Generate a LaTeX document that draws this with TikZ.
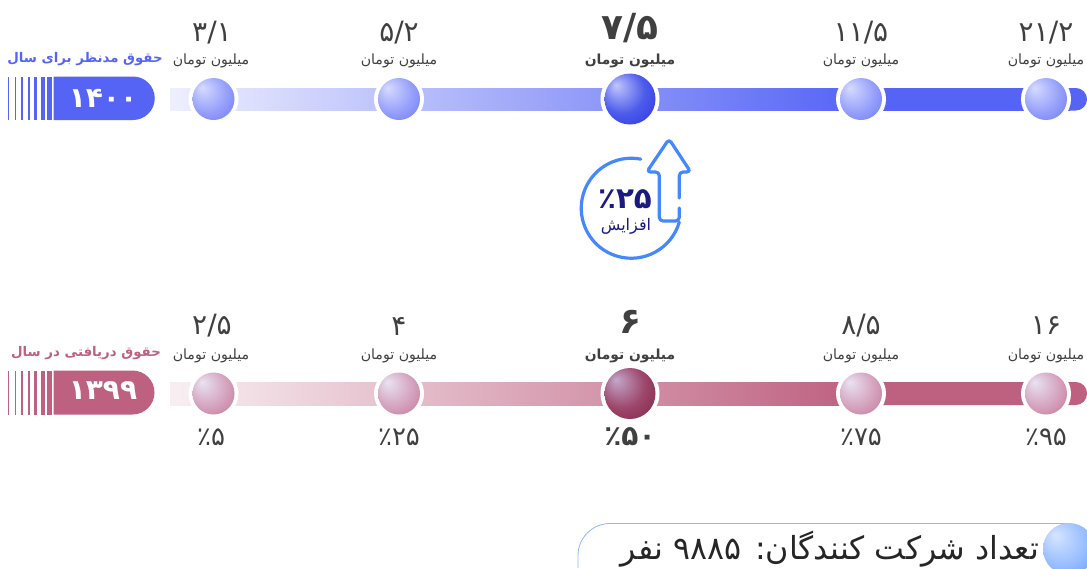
\documentclass[tikz,border=0pt]{standalone}
\usepackage{fontspec}
\usetikzlibrary{calc}
\TeXXeTstate=1
\newfontfamily\faf[Script=Arabic]{DejaVu Sans}
\newfontfamily\fab[Script=Arabic]{DejaVu Sans Bold}
\newcommand\rl[1]{\beginR #1\endR}
\definecolor{tblue}{HTML}{5564F5}
\definecolor{tpink}{HTML}{BE6080}
\definecolor{tdark}{HTML}{404040}
\definecolor{tnavy}{HTML}{1A1A80}
\definecolor{tsky}{HTML}{4488FF}
\pgfdeclareradialshading{ballblue}{\pgfpoint{-14bp}{14bp}}{rgb(0bp)=(0.84,0.86,1);rgb(24bp)=(0.58,0.62,0.98);rgb(50bp)=(0.33,0.39,0.96)}
\pgfdeclareradialshading{ballbluebig}{\pgfpoint{-14bp}{14bp}}{rgb(0bp)=(0.76,0.78,0.99);rgb(22bp)=(0.30,0.36,0.92);rgb(50bp)=(0.10,0.12,0.88)}
\pgfdeclareradialshading{ballpink}{\pgfpoint{-14bp}{14bp}}{rgb(0bp)=(0.91,0.89,0.95);rgb(25bp)=(0.83,0.62,0.73);rgb(50bp)=(0.72,0.36,0.49)}
\pgfdeclareradialshading{ballpinkbig}{\pgfpoint{-14bp}{14bp}}{rgb(0bp)=(0.76,0.66,0.80);rgb(22bp)=(0.62,0.28,0.42);rgb(50bp)=(0.44,0.07,0.20)}
\pgfdeclareradialshading{ballsky}{\pgfpoint{-14bp}{14bp}}{rgb(0bp)=(0.84,0.90,1);rgb(25bp)=(0.58,0.73,1);rgb(50bp)=(0.27,0.53,1)}
\tikzset{
  x=0.75pt,y=-0.75pt,
  small/.style={font=\fontsize{10.6}{12}\selectfont\faf,text=tdark,inner sep=0pt},
  smallb/.style={font=\fontsize{10.4}{12}\selectfont\fab,text=tdark,inner sep=0pt},
  val/.style={font=\fontsize{21}{24}\selectfont\faf,text=tdark,inner sep=0pt},
  valb/.style={font=\fontsize{27}{30}\selectfont\fab,text=tdark,inner sep=0pt},
  pct/.style={font=\fontsize{19.5}{22}\selectfont\faf,text=tdark,inner sep=0pt},
  pctb/.style={font=\fontsize{21}{24}\selectfont\fab,text=tdark,inner sep=0pt},
  head/.style={font=\fontsize{10}{12}\selectfont\fab,inner sep=0pt},
  pilltext/.style={font=\fontsize{21}{24}\selectfont\fab,text=white,inner sep=0pt},
  ball/.style={circle,inner sep=0pt,minimum size=42*0.75pt,draw=none},
  bigball/.style={circle,inner sep=0pt,minimum size=51*0.75pt,draw=none},
  ring/.style={circle,inner sep=0pt,fill=white,minimum size=50*0.75pt},
  bigring/.style={circle,inner sep=0pt,fill=white,minimum size=59*0.75pt},
  badge/.style={draw=tsky,line width=2.4pt,line cap=round,line join=round},
}
\begin{document}
\begin{tikzpicture}
\useasboundingbox (0,0) rectangle (1087,568);
% top track
\shade[left color=tblue!10,right color=tblue] (170,88) rectangle (860,110.5);
\fill[tblue,rounded corners=8.4pt] (850,88) -- (1087,88) -- (1087,110.5) -- (850,110.5) -- cycle;
\fill[tblue] (850,88) rectangle (1070,110.5);
% bottom track
\shade[left color=tpink!10,right color=tpink] (170,382) rectangle (860,405);
\fill[tpink,rounded corners=8.4pt] (850,382) -- (1087,382) -- (1087,405) -- (850,405) -- cycle;
\fill[tpink] (850,382) rectangle (1070,405);
% upper row
\node[ring] (ra) at (213.5,99) {};
\node[ring] (rb) at (399,99) {};
\node[bigring] (rc) at (630,99) {};
\node[ring] (rd) at (861,99) {};
\node[ring] (re) at (1046,99) {};
\node[ball,shading=ballblue] (ba) at (213.5,99) {};
\node[ball,shading=ballblue] (bb) at (399,99) {};
\node[bigball,shading=ballbluebig] (bc) at (630,99) {};
\node[ball,shading=ballblue] (bd) at (861,99) {};
\node[ball,shading=ballblue] (be) at (1046,99) {};
\node[val] (va) at (212,33) {۳/۱};
\node[val] (vb) at (399,33) {۵/۲};
\node[valb] (vc) at (630,28) {۷/۵};
\node[val] (vd) at (861,33) {۱۱/۵};
\node[val] (ve) at (1046,33) {۲۱/۲};
\node[small] (ta) at (211,60.5) {\rl{میلیون تومان}};
\node[small] (tb) at (399,60.5) {\rl{میلیون تومان}};
\node[smallb] (tc) at (630,60.5) {\rl{میلیون تومان}};
\node[small] (td) at (861,60.5) {\rl{میلیون تومان}};
\node[small] (te) at (1046,60.5) {\rl{میلیون تومان}};
% lower row
\node[ring] (rf) at (213.5,393.5) {};
\node[ring] (rg) at (399,393.5) {};
\node[bigring] (rh) at (630,393.5) {};
\node[ring] (ri) at (861,393.5) {};
\node[ring] (rj) at (1046,393.5) {};
\node[ball,shading=ballpink] (bf) at (213.5,393.5) {};
\node[ball,shading=ballpink] (bg) at (399,393.5) {};
\node[bigball,shading=ballpinkbig] (bh) at (630,393.5) {};
\node[ball,shading=ballpink] (bi) at (861,393.5) {};
\node[ball,shading=ballpink] (bj) at (1046,393.5) {};
\node[val] (vf) at (212,326) {۲/۵};
\node[val] (vg) at (399,326) {۴};
\node[valb] (vh) at (630,322) {۶};
\node[val] (vi) at (861,326) {۸/۵};
\node[val] (vj) at (1046,326) {۱۶};
\node[small] (tf) at (211,355.5) {\rl{میلیون تومان}};
\node[small] (tg) at (399,355.5) {\rl{میلیون تومان}};
\node[smallb] (th) at (630,355.5) {\rl{میلیون تومان}};
\node[small] (ti) at (861,355.5) {\rl{میلیون تومان}};
\node[small] (tj) at (1046,355.5) {\rl{میلیون تومان}};
\node[pct] (pf) at (211,437) {٪۵};
\node[pct] (pg) at (399,437) {٪۲۵};
\node[pctb] (ph) at (630,437) {٪۵۰};
\node[pct] (pi) at (861,437) {٪۷۵};
\node[pct] (pj) at (1046,437) {٪۹۵};
% pills
\foreach \l/\r in {8/9.3,14.7/16,21/23,28/30,34.3/36.7,41/44.7,47/52}{
  \fill[tblue] (\l,76.5) rectangle (\r,120);
  \fill[tpink] (\l,370.5) rectangle (\r,414.5);
}
\fill[tblue] (53.7,76.5) -- (133,76.5) arc[start angle=-90,end angle=90,radius=21.75] -- (53.7,120) -- cycle;
\fill[tpink] (53.7,370.5) -- (132.5,370.5) arc[start angle=-90,end angle=90,radius=22] -- (53.7,414.5) -- cycle;
\node[pilltext] (pa) at (103,98) {۱۴۰۰};
\node[pilltext] (pb) at (103,391) {۱۳۹۹};
\node[head,text=tblue] (ha) at (85,59.5) {\rl{حقوق مدنظر برای سال}};
\node[head,text=tpink] (hb) at (86,353.5) {\rl{حقوق دریافتی در سال}};
% badge
\draw[badge] (679.3,222) arc[start angle=16,end angle=281,radius=50];
\draw[badge,rounded corners=2.8pt] (679.3,208) -- (679.3,221) -- (659.3,221) -- (659.3,172) -- (646.7,172) -- (669,139) -- (690.7,172) -- (679.3,172) -- (679.3,198);
\node[font=\fontsize{22}{24}\selectfont\fab,text=tnavy,inner sep=0pt] (bp) at (625,199) {٪۲۵};
\node[font=\fontsize{12}{14}\selectfont\faf,text=tnavy,inner sep=0pt] (bt) at (626,226) {\rl{افزایش}};
% footer
\draw[tsky!60,line width=0.6pt] (1069,523.5) -- (610,523.5) arc[start angle=270,end angle=180,radius=32] -- (578,568);
\node[circle,inner sep=0pt,minimum size=52*0.75pt,shading=ballsky] (fb) at (1069,549) {};
\node[font=\fontsize{23.8}{28}\selectfont\faf,text=black!85,inner sep=0pt] (ft) at (830,549) {\rl{تعداد شرکت کنندگان: \beginL ۹۸۸۵\endL{} نفر}};
\end{tikzpicture}
\end{document}
